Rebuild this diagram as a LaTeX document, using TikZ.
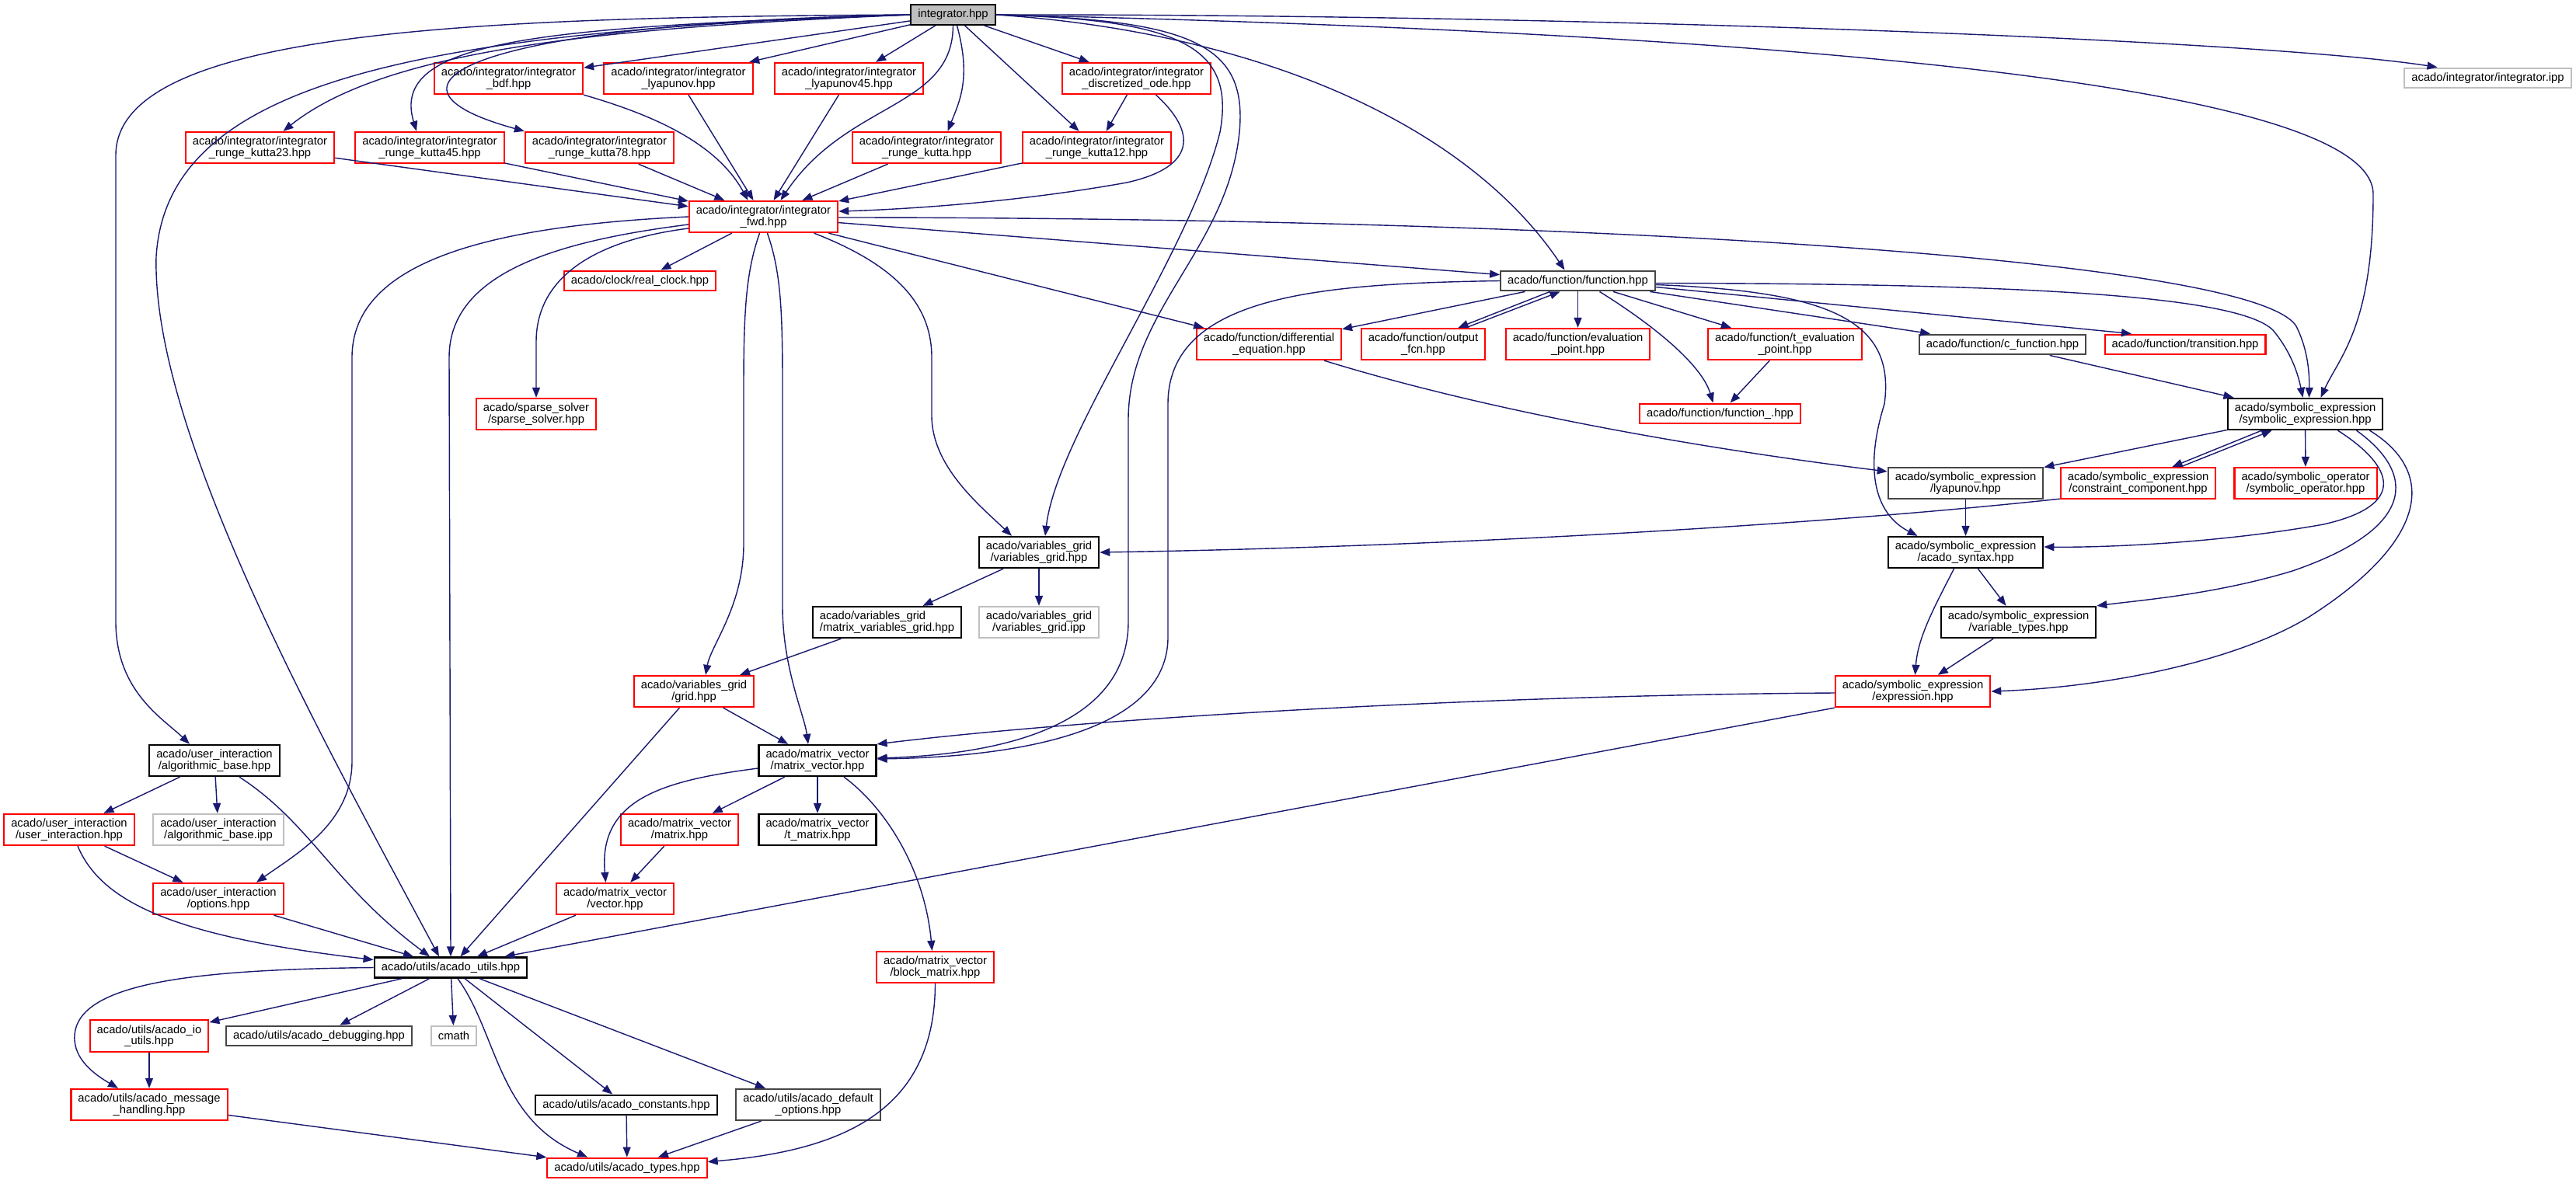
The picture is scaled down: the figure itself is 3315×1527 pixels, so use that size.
\documentclass[tikz,border=0pt]{standalone}
\usepackage{fontspec}
\setmainfont{Liberation Sans}
\definecolor{dxblue}{RGB}{25,25,112}
\definecolor{dxred}{RGB}{255,0,0}
\definecolor{dxgrey}{RGB}{191,191,191}
\definecolor{dxdark}{RGB}{70,70,70}
\usetikzlibrary{arrows.meta,calc}

\begin{document}
\begin{tikzpicture}[x=0.01cm, y=-0.01cm,
    hdrbox/.style={rectangle, fill=white, line width=0.6pt, inner xsep=0.09cm,
                   inner ysep=0.06cm, minimum height=0.25cm, align=center,
                   font=\fontsize{4.2}{4.1}\selectfont},
    foundbox/.style={hdrbox, draw=black},
    linkbox/.style={hdrbox, draw=dxdark},
    missbox/.style={hdrbox, draw=dxred},
    sysbox/.style={hdrbox, draw=dxgrey},
    rootbox/.style={hdrbox, draw=black, fill=dxgrey},
    dep/.style={-{Triangle[length=0.13cm, width=0.1cm]}, line width=0.4pt, draw=dxblue, fill=none}
  ]
    \fill[white] (0,0) rectangle (3315,1527);
    \useasboundingbox (0,0) rectangle (3315,1527);

    % Root header
    \node[rootbox] (root) at (1226.5,19) {integrator.hpp};

    % Integrator variants
    \node[missbox] (bdf)    at (654.5,101)  {acado/integrator/integrator\\\_bdf.hpp};
    \node[missbox] (lyap)   at (873,101)    {acado/integrator/integrator\\\_lyapunov.hpp};
    \node[missbox] (lyap45) at (1092.5,101) {acado/integrator/integrator\\\_lyapunov45.hpp};
    \node[missbox] (disode) at (1462.5,101) {acado/integrator/integrator\\\_discretized\_ode.hpp};
    \node[sysbox]  (ipp)    at (3201.5,100.5) {acado/integrator/integrator.ipp};
    \node[missbox] (rk23)   at (334.5,190)  {acado/integrator/integrator\\\_runge\_kutta23.hpp};
    \node[missbox] (rk45)   at (553,190)    {acado/integrator/integrator\\\_runge\_kutta45.hpp};
    \node[missbox] (rk78)   at (771.5,190)  {acado/integrator/integrator\\\_runge\_kutta78.hpp};
    \node[missbox] (rk)     at (1192.5,190) {acado/integrator/integrator\\\_runge\_kutta.hpp};
    \node[missbox] (rk12)   at (1411.5,190) {acado/integrator/integrator\\\_runge\_kutta12.hpp};
    \node[missbox] (fwd)    at (982.5,279)  {acado/integrator/integrator\\\_fwd.hpp};

    % Function layer
    \node[missbox] (clock)   at (823.5,361.5)  {acado/clock/real\_clock.hpp};
    \node[linkbox] (func)    at (2030.5,361.5) {acado/function/function.hpp};
    \node[missbox] (diffeq)  at (1633,443)     {acado/function/differential\\\_equation.hpp};
    \node[missbox] (outfcn)  at (1831.5,443)   {acado/function/output\\\_fcn.hpp};
    \node[missbox] (evalpt)  at (2030.5,443)   {acado/function/evaluation\\\_point.hpp};
    \node[missbox] (tevalpt) at (2297,443)     {acado/function/t\_evaluation\\\_point.hpp};
    \node[linkbox] (cfunc)   at (2577,443.5)   {acado/function/c\_function.hpp};
    \node[missbox] (trans)   at (2812,443.5)   {acado/function/transition.hpp};
    \node[missbox] (sparse)  at (690,533)      {acado/sparse\_solver\\/sparse\_solver.hpp};
    \node[missbox] (funcu)   at (2213.5,532.5) {acado/function/function\_.hpp};

    % Symbolic expressions
    \node[foundbox] (symexpr)  at (2966.5,533) {acado/symbolic\_expression\\/symbolic\_expression.hpp};
    \node[linkbox]  (symlyap)  at (2529.5,622) {acado/symbolic\_expression\\/lyapunov.hpp};
    \node[missbox]  (constr)   at (2751.5,622) {acado/symbolic\_expression\\/constraint\_component.hpp};
    \node[missbox]  (symop)    at (2967,622)   {acado/symbolic\_operator\\/symbolic\_operator.hpp};
    \node[foundbox] (syntax)   at (2529.5,711) {acado/symbolic\_expression\\/acado\_syntax.hpp};
    \node[foundbox] (vartypes) at (2597.5,801) {acado/symbolic\_expression\\/variable\_types.hpp};
    \node[missbox]  (expr)     at (2461.5,890) {acado/symbolic\_expression\\/expression.hpp};

    % Grids and matrices
    \node[foundbox] (varsgrid) at (1337,711)    {acado/variables\_grid\\/variables\_grid.hpp};
    \node[foundbox, align=left] (mvgrid) at (1141.5,801) {acado/variables\_grid\\/matrix\_variables\_grid.hpp};
    \node[sysbox]   (vgipp)    at (1337,801)    {acado/variables\_grid\\/variables\_grid.ipp};
    \node[missbox]  (grid)     at (893,890)     {acado/variables\_grid\\/grid.hpp};
    \node[foundbox] (mv)       at (1052,979)    {acado/matrix\_vector\\/matrix\_vector.hpp};
    \node[missbox]  (matrix)   at (874.5,1068)  {acado/matrix\_vector\\/matrix.hpp};
    \node[foundbox] (tmatrix)  at (1052,1068)   {acado/matrix\_vector\\/t\_matrix.hpp};
    \node[missbox]  (vector)   at (791.5,1157)  {acado/matrix\_vector\\/vector.hpp};
    \node[missbox]  (blockm)   at (1203.5,1245) {acado/matrix\_vector\\/block\_matrix.hpp};

    % User interaction
    \node[foundbox] (algbase) at (276,979)  {acado/user\_interaction\\/algorithmic\_base.hpp};
    \node[missbox]  (uinter)  at (89,1068)  {acado/user\_interaction\\/user\_interaction.hpp};
    \node[sysbox]   (algipp)  at (281,1068) {acado/user\_interaction\\/algorithmic\_base.ipp};
    \node[missbox]  (options) at (281,1157) {acado/user\_interaction\\/options.hpp};

    % Utils
    \node[foundbox, line width=0.75pt] (utils) at (580,1245.5) {acado/utils/acado\_utils.hpp};
    \node[missbox]  (ioutils) at (192,1333.5)  {acado/utils/acado\_io\\\_utils.hpp};
    \node[linkbox]  (debug)   at (410.5,1333.5) {acado/utils/acado\_debugging.hpp};
    \node[sysbox]   (cmath)   at (584,1333.5)  {cmath};
    \node[missbox]  (msg)     at (192,1422)    {acado/utils/acado\_message\\\_handling.hpp};
    \node[foundbox] (consts)  at (806,1422.5)  {acado/utils/acado\_constants.hpp};
    \node[linkbox]  (defopts) at (1040,1422)   {acado/utils/acado\_default\\\_options.hpp};
    \node[missbox]  (types)   at (807,1503.5)  {acado/utils/acado\_types.hpp};

    % Edges from the root
    \draw[dep] (root.west) .. controls (600,22) and (149,40) .. (149,200) -- (149,800)
               .. controls (149,890) and (210,925) .. ($(algbase.north)+(-32,0)$);
    \draw[dep] (root.west) .. controls (520,40) and (215,110) .. (201,330)
               .. controls (195,560) and (420,960) .. ($(utils.north)+(-15,0)$);
    \draw[dep] (root.west) .. controls (800,35) and (500,60) .. ($(rk23.north)+(30,0)$);
    \draw[dep] (root.west) .. controls (700,35) and (500,50) .. ($(rk45.north)+(-17,0)$);
    \draw[dep] (root.west) .. controls (600,30) and (460,110) .. (rk78.north west);
    \draw[dep] (root) -- (bdf);
    \draw[dep] (root) -- (lyap);
    \draw[dep] (root) -- (lyap45);
    \draw[dep] (root.south) .. controls (1226,140) and (1090,130) .. ($(fwd.north)+(22,0)$);
    \draw[dep] ($(root.south)+(5,0)$) .. controls (1250,100) and (1235,130) .. ($(rk.north)+(27,0)$);
    \draw[dep] (root) -- (rk12);
    \draw[dep] (root) -- (disode);
    \draw[dep] (root.east) .. controls (2000,18) and (2900,50) .. ($(ipp.north)+(-65,0)$);
    \draw[dep] (root.east) .. controls (1600,40) and (1880,150) .. ($(func.north)+(-17,0)$);
    \draw[dep] (root.east) .. controls (2200,40) and (3054,100) .. (3054,250)
               .. controls (3054,420) and (3010,460) .. ($(symexpr.north)+(20,0)$);
    \draw[dep] (root.east) .. controls (1520,25) and (1590,60) .. (1570,170)
               .. controls (1530,330) and (1360,560) .. ($(varsgrid.north)+(8,0)$);
    \draw[dep] (root.east) .. controls (1540,25) and (1605,60) .. (1595,170)
               .. controls (1580,320) and (1452,400) .. (1452,540) -- (1452,800)
               .. controls (1452,950) and (1250,972) .. ($(mv.east)+(0,-3)$);

    % Into integrator_fwd
    \draw[dep] (rk23) -- (fwd);
    \draw[dep] (rk45) -- (fwd);
    \draw[dep] (rk78) -- (fwd);
    \draw[dep] (bdf.south east) .. controls (830,145) and (920,180) .. ($(fwd.north)+(-20,0)$);
    \draw[dep] (lyap) -- (fwd);
    \draw[dep] (lyap45) -- (fwd);
    \draw[dep] (rk) -- (fwd);
    \draw[dep] (rk12) -- (fwd);
    \draw[dep] ($(disode.south)+(25,0)$) .. controls (1540,170) and (1540,215) .. (1450,235)
               .. controls (1300,262) and (1150,270) .. ($(fwd.east)+(0,-7)$);
    \draw[dep] (disode) -- (rk12);

    % Out of integrator_fwd
    \draw[dep] (fwd) -- (clock);
    \draw[dep] ($(fwd.west)+(0,15)$) .. controls (760,310) and (690,360) .. (690,440) -- (sparse.north);
    \draw[dep] (fwd.west) .. controls (650,290) and (453,330) .. (453,460) -- (453,980)
               .. controls (453,1060) and (380,1100) .. ($(options.north)+(49,0)$);
    \draw[dep] ($(fwd.west)+(0,10)$) .. controls (720,310) and (578,350) .. (578,460) -- (utils.north);
    \draw[dep] ($(fwd.south)+(-5,0)$) .. controls (960,350) and (957,400) .. (957,500) -- (957,700)
               .. controls (957,780) and (915,830) .. ($(grid.north)+(15,0)$);
    \draw[dep] ($(fwd.south)+(5,0)$) .. controls (1005,350) and (1007,400) .. (1007,500) -- (1007,780)
               .. controls (1007,860) and (1035,920) .. ($(mv.north)+(-12,0)$);
    \draw[dep] ($(fwd.south)+(65,0)$) .. controls (1150,340) and (1199,390) .. (1199,460) -- (1199,535)
               .. controls (1199,600) and (1260,650) .. ($(varsgrid.north)+(-35,0)$);
    \draw[dep] (fwd) -- (diffeq);
    \draw[dep] (fwd) -- (func);
    \draw[dep] ($(fwd.east)+(0,1)$) .. controls (2000,280) and (2900,330) .. (2955,420)
               .. controls (2970,450) and (2972,480) .. ($(symexpr.north)+(5,0)$);

    % Function
    \draw[dep] (func) -- (diffeq);
    \draw[dep] ($(func.south)+(-36,0)$) -- ($(outfcn.north)+(45,0)$);
    \draw[dep] ($(outfcn.north)+(55,0)$) -- ($(func.south)+(-23,0)$);
    \draw[dep] (func) -- (evalpt);
    \draw[dep] ($(func.south)+(28,0)$) .. controls (2130,420) and (2190,470) .. ($(funcu.north)+(-9,0)$);
    \draw[dep] (func) -- (tevalpt);
    \draw[dep] (tevalpt) -- (funcu);
    \draw[dep] (func) -- (cfunc);
    \draw[dep] ($(func.east)+(0,8)$) -- ($(trans.north)+(-69,0)$);
    \draw[dep] ($(func.east)+(0,3)$) .. controls (2600,365) and (2880,380) .. (2925,425)
               .. controls (2950,455) and (2958,485) .. ($(symexpr.north)+(-3,0)$);
    \draw[dep] ($(func.east)+(0,5)$) .. controls (2350,375) and (2440,410) .. (2425,520)
               .. controls (2400,600) and (2410,660) .. ($(syntax.north)+(-62,0)$);
    \draw[dep] (func.west) .. controls (1700,365) and (1503,380) .. (1503,520) -- (1503,820)
               .. controls (1503,960) and (1250,975) .. ($(mv.east)+(0,-2)$);
    \draw[dep] ($(diffeq.south)+(71,0)$) .. controls (1950,540) and (2250,585) .. ($(symlyap.west)+(0,-15)$);

    % Symbolic expressions
    \draw[dep] (cfunc) -- (symexpr);
    \draw[dep] (symexpr) -- (symlyap);
    \draw[dep] ($(symexpr.south)+(-56,0)$) -- ($(constr.north)+(44,0)$);
    \draw[dep] ($(constr.north)+(55,0)$) -- ($(symexpr.south)+(-43,0)$);
    \draw[dep] (symexpr) -- (symop);
    \draw[dep] ($(symexpr.south)+(42,0)$) .. controls (3080,600) and (3100,650) .. (2990,675)
               .. controls (2850,700) and (2700,705) .. ($(syntax.east)+(0,-7)$);
    \draw[dep] ($(symexpr.south)+(66,0)$) .. controls (3110,610) and (3110,680) .. (2950,735)
               .. controls (2850,765) and (2760,772) .. (vartypes.north east);
    \draw[dep] ($(symexpr.south)+(83,0)$) .. controls (3140,610) and (3120,700) .. (2970,795)
               .. controls (2870,855) and (2700,885) .. (expr.east);
    \draw[dep] (symlyap) -- (syntax);
    \draw[dep] ($(constr.south west)+(0,-1)$) .. controls (2300,680) and (1800,705) .. (varsgrid.east);
    \draw[dep] (syntax) -- (vartypes);
    \draw[dep] ($(syntax.south)+(-15,0)$) .. controls (2490,780) and (2468,820) .. ($(expr.north)+(3,0)$);
    \draw[dep] (vartypes) -- (expr);
    \draw[dep] ($(expr.west)+(0,2)$) .. controls (1900,895) and (1400,925) .. (mv.north east);
    \draw[dep] (expr.south west) -- ($(utils.north east)+(-30,0)$);

    % Grids and matrices
    \draw[dep] (varsgrid) -- (mvgrid);
    \draw[dep] (varsgrid) -- (vgipp);
    \draw[dep] (mvgrid) -- (grid);
    \draw[dep] (grid) -- (mv);
    \draw[dep] (grid) -- (utils);
    \draw[dep] (mv) -- (matrix);
    \draw[dep] (mv) -- (tmatrix);
    \draw[dep] ($(mv.west)+(0,10)$) .. controls (850,1005) and (770,1030) .. ($(vector.north)+(-12,0)$);
    \draw[dep] ($(mv.south)+(34,0)$) .. controls (1140,1040) and (1190,1120) .. ($(blockm.north)+(-4,0)$);
    \draw[dep] (matrix) -- (vector);
    \draw[dep] (vector) -- (utils);
    \draw[dep] (blockm.south) .. controls (1203,1420) and (1100,1480) .. ($(types.east)+(0,-8)$);

    % User interaction
    \draw[dep] (algbase) -- (uinter);
    \draw[dep] (algbase) -- (algipp);
    \draw[dep] ($(algbase.south)+(32,0)$) .. controls (400,1060) and (430,1140) .. ($(utils.north)+(-27,0)$);
    \draw[dep] (uinter) -- (options);
    \draw[dep] ($(uinter.south)+(11,0)$) .. controls (130,1160) and (220,1205) .. ($(utils.west)+(0,-10)$);
    \draw[dep] (options) -- (utils);

    % Utils
    \draw[dep] (utils.west) .. controls (250,1248) and (100,1265) .. (96,1333)
               .. controls (94,1365) and (125,1385) .. ($(msg.north)+(-40,0)$);
    \draw[dep] (utils) -- (ioutils);
    \draw[dep] (utils) -- (debug);
    \draw[dep] (utils) -- (cmath);
    \draw[dep] (utils) -- (consts);
    \draw[dep] (utils) -- (defopts);
    \draw[dep] ($(utils.south)+(9,0)$) .. controls (640,1330) and (640,1440) .. ($(types.north)+(-51,0)$);
    \draw[dep] (ioutils) -- (msg);
    \draw[dep] (msg) -- (types);
    \draw[dep] (consts) -- (types);
    \draw[dep] (defopts) -- (types);
\end{tikzpicture}
\end{document}
